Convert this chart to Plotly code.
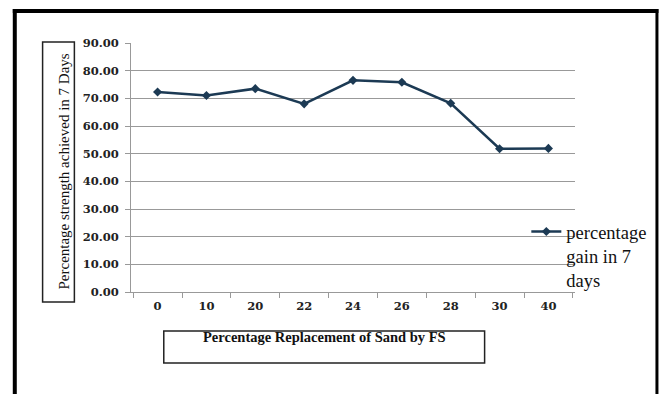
import plotly.graph_objects as go

categories = ["0", "10", "20", "22", "24", "26", "28", "30", "40"]
strength_7d = [72.3, 71.0, 73.5, 68.0, 76.5, 75.8, 68.2, 51.8, 51.9]
y_ticks = [0, 10, 20, 30, 40, 50, 60, 70, 80, 90]
series_name = "percentage<br>gain in 7<br>days"
x_title = "Percentage Replacement of Sand by FS"
y_title = "Percentage strength achieved in 7 Days"

W, H = 664, 394
L, R, T, B = 131, 86, 43, 102
PW, PH = W - L - R, H - T - B

def px(x):
    return (x - L) / PW

def py(y):
    return (H - B - y) / PH

fig = go.Figure()
fig.add_trace(go.Scatter(
    x=categories, y=strength_7d, mode="lines+markers", name=series_name,
    line=dict(color="#1c3a54", width=2.5),
    marker=dict(symbol="diamond", size=7, color="#1c3a54"),
))

tickfont = dict(family="DejaVu Serif", size=11.5, color="#222222", weight="bold")
fig.update_layout(
    width=W, height=H,
    margin=dict(l=L, r=R, t=T, b=B),
    paper_bgcolor="white", plot_bgcolor="white",
    showlegend=True,
    legend=dict(x=px(529), y=py(213), xanchor="left", yanchor="top",
                font=dict(family="Liberation Serif", size=18.5, color="#111111"),
                bgcolor="rgba(0,0,0,0)", valign="top", itemwidth=30),
    xaxis=dict(type="category", showline=True, linecolor="#999999", linewidth=1,
               ticks="outside", ticklen=5, tickcolor="#999999", tickson="boundaries",
               showgrid=False, tickfont=tickfont, ticklabelstandoff=3),
    yaxis=dict(range=[0, 90], tickvals=y_ticks, tickformat=".2f",
               showline=True, linecolor="#999999", linewidth=1,
               ticks="outside", ticklen=5, tickcolor="#999999",
               showgrid=True, gridcolor="#999999", gridwidth=1,
               zeroline=False, tickfont=tickfont, ticklabelstandoff=4),
)

shapes = []
# outer frame
shapes.append(dict(type="line", xref="paper", yref="paper", x0=px(14), x1=px(14), y0=py(9), y1=py(400),
                   line=dict(color="black", width=4)))
shapes.append(dict(type="line", xref="paper", yref="paper", x0=px(12), x1=px(662), y0=py(11), y1=py(11),
                   line=dict(color="black", width=4)))
shapes.append(dict(type="line", xref="paper", yref="paper", x0=px(660.5), x1=px(660.5), y0=py(9), y1=py(400),
                   line=dict(color="black", width=3)))
# y title box
shapes.append(dict(type="rect", xref="paper", yref="paper", x0=px(42), x1=px(74), y0=py(302), y1=py(42),
                   line=dict(color="#222222", width=1.5)))
# x title box
shapes.append(dict(type="rect", xref="paper", yref="paper", x0=px(164), x1=px(487), y0=py(363), y1=py(331),
                   line=dict(color="#222222", width=1.5)))
fig.update_layout(shapes=shapes)

fig.add_annotation(text=y_title, xref="paper", yref="paper", x=px(53), y=py(172),
                   showarrow=False, textangle=-90,
                   font=dict(family="Liberation Serif", size=15, color="#111111"))
fig.add_annotation(text=x_title, xref="paper", yref="paper", x=px(326), y=py(347),
                   showarrow=False,
                   font=dict(family="Liberation Serif", size=14.5, color="#111111", weight="bold"))

fig.write_html("out.html", config={"displayModeBar": False},
               post_script="document.body.style.margin='0';")
